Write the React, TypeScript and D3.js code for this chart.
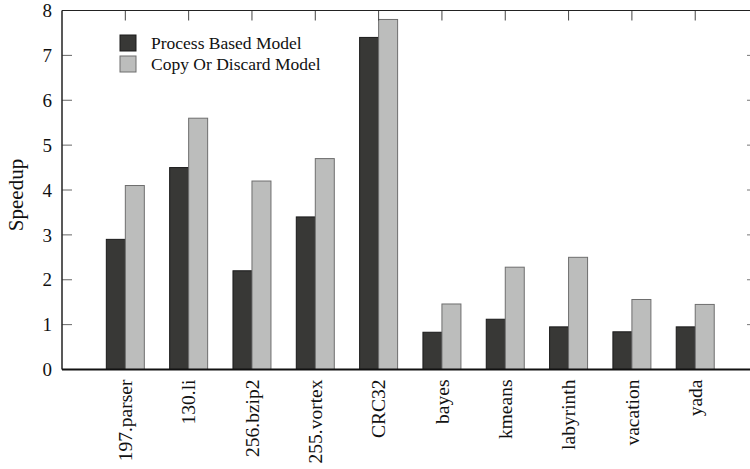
import * as d3 from "d3";

const categories = [
  "197.parser", "130.li", "256.bzip2", "255.vortex", "CRC32",
  "bayes", "kmeans", "labyrinth", "vacation", "yada",
];
const processBased = [2.9, 4.5, 2.2, 3.4, 7.4, 0.83, 1.12, 0.95, 0.84, 0.95];
const copyOrDiscard = [4.1, 5.6, 4.2, 4.7, 7.8, 1.46, 2.28, 2.5, 1.56, 1.45];
const yTicks = [0, 1, 2, 3, 4, 5, 6, 7, 8];
const seriesNames = ["Process Based Model", "Copy Or Discard Model"];

const W = 750;
const H = 469;
const left = 62;
const right = 750;
const top = 10.5;
const bottom = 369.5;
const font = "'Liberation Serif', 'Times New Roman', serif";

export default function App() {
  const x = d3.scaleLinear().domain([-1, 9.865]).range([left, right]);
  const y = d3.scaleLinear().domain([0, 8]).range([bottom, top]);
  const bw = x(0.3) - x(0);
  const colors = ["#383836", "#bcbdbc"];
  const strokes = ["#1a1a1a", "#6e6e6e"];

  return (
    <svg width={W} height={H} style={{ position: "absolute", left: 0, top: 0 }}>
      <rect width={W} height={H} fill="#fff" />
      {/* bars */}
      {categories.map((c, i) => (
        <g key={c}>
          <rect
            x={x(i) - bw}
            y={y(processBased[i])}
            width={bw}
            height={y(0) - y(processBased[i])}
            fill={colors[0]}
            stroke={strokes[0]}
            strokeWidth={1}
          />
          <rect
            x={x(i)}
            y={y(copyOrDiscard[i])}
            width={bw}
            height={y(0) - y(copyOrDiscard[i])}
            fill={colors[1]}
            stroke={strokes[1]}
            strokeWidth={1}
          />
        </g>
      ))}
      {/* y ticks */}
      {yTicks.map((t) => (
        <g key={t}>
          <line x1={left} x2={left + 10} y1={y(t)} y2={y(t)} stroke="#666" strokeWidth={1} />
          <line x1={right - 3} x2={right} y1={y(t)} y2={y(t)} stroke="#777" strokeWidth={1} />
          <text
            x={52}
            y={y(t)}
            dy="0.35em"
            textAnchor="end"
            fontFamily={font}
            fontSize={19}
            fill="#111"
          >
            {t}
          </text>
        </g>
      ))}
      {/* x ticks on top, labels below */}
      {categories.map((c, i) => (
        <g key={"t" + c}>
          <line x1={x(i)} x2={x(i)} y1={top} y2={top + 10} stroke="#444" strokeWidth={1} />
          <text
            transform={`translate(${x(i)},${bottom + 10}) rotate(-90)`}
            dy="0.35em"
            textAnchor="end"
            fontFamily={font}
            fontSize={19.5}
            fill="#111"
          >
            {c}
          </text>
        </g>
      ))}
      {/* frame */}
      <line x1={left} x2={right} y1={top} y2={top} stroke="#222" strokeWidth={1.2} />
      <line x1={left} x2={left} y1={top} y2={bottom} stroke="#222" strokeWidth={1.5} />
      <line x1={left} x2={W} y1={bottom} y2={bottom} stroke="#111" strokeWidth={2} />
      {/* y title */}
      <text
        transform="translate(16,195) rotate(-90)"
        dy="0.35em"
        textAnchor="middle"
        fontFamily={font}
        fontSize={21}
        fill="#111"
      >
        Speedup
      </text>
      {/* legend */}
      {seriesNames.map((n, i) => (
        <g key={n} transform={`translate(120,${35 + i * 21})`}>
          <rect width={16} height={16} fill={colors[i]} stroke={strokes[i]} strokeWidth={1} />
          <text x={31} y={8} dy="0.35em" fontFamily={font} fontSize={17.5} fill="#111">
            {n}
          </text>
        </g>
      ))}
    </svg>
  );
}
